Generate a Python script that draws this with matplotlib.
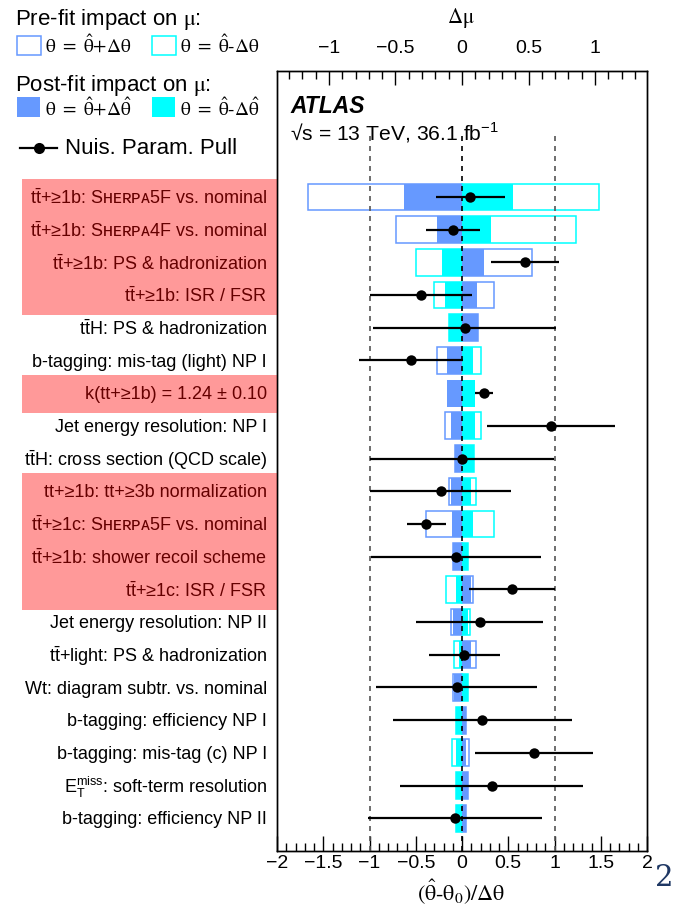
import numpy as np
import matplotlib
matplotlib.use("Agg")
import matplotlib.pyplot as plt
from matplotlib.patches import Rectangle
from matplotlib.lines import Line2D
from matplotlib.ticker import MultipleLocator

plt.rcParams['font.family'] = ['Liberation Sans', 'DejaVu Sans']
plt.rcParams['axes.unicode_minus'] = True

TB = r"$\mathregular{\bar{t}}$"          # t with bar
SH = "S\u029c\u1d07\u0280\u1d18\u1d00"  # Sherpa in small capitals

# Nuisance parameters, ranked top to bottom
labels = [
    f"t{TB}+\u22651b: {SH}5F vs. nominal",
    f"t{TB}+\u22651b: {SH}4F vs. nominal",
    f"t{TB}+\u22651b: PS & hadronization",
    f"t{TB}+\u22651b: ISR / FSR",
    f"t{TB}H: PS & hadronization",
    "b-tagging: mis-tag (light) NP I",
    "k(tt+\u22651b) = 1.24 \u00b1 0.10",
    "Jet energy resolution: NP I",
    f"t{TB}H: cross section (QCD scale)",
    "tt+\u22651b: tt+\u22653b normalization",
    f"t{TB}+\u22651c: {SH}5F vs. nominal",
    f"t{TB}+\u22651b: shower recoil scheme",
    f"t{TB}+\u22651c: ISR / FSR",
    "Jet energy resolution: NP II",
    f"t{TB}+light: PS & hadronization",
    "Wt: diagram subtr. vs. nominal",
    "b-tagging: efficiency NP I",
    "b-tagging: mis-tag (c) NP I",
    r"E$_\mathregular{T}^\mathregular{miss}$: soft-term resolution",
    "b-tagging: efficiency NP II",
]

# Impact on mu (pre-fit and post-fit, +/- variations)
prefit_up = [-1.160, -0.493, 0.529, 0.241, 0.123, -0.185, np.nan, -0.128, -0.050, -0.098,
             -0.271, -0.070, 0.086, -0.083, 0.103, -0.066, 0.028, 0.053, 0.045, 0.028]
prefit_dn = [1.032, 0.860, -0.348, -0.208, -0.100, 0.141, np.nan, 0.146, 0.093, 0.103,
             0.241, 0.048, -0.120, 0.060, -0.062, 0.045, -0.045, -0.072, -0.045, -0.045]
postfit_up = [-0.434, -0.190, 0.165, 0.116, 0.123, -0.115, -0.110, -0.085, -0.050, -0.085,
              -0.077, -0.070, 0.065, -0.065, 0.065, -0.062, 0.028, 0.028, 0.045, 0.028]
postfit_dn = [0.381, 0.221, -0.153, -0.130, -0.100, 0.086, 0.098, 0.101, 0.093, 0.068,
              0.080, 0.048, -0.047, 0.048, -0.023, 0.045, -0.045, -0.047, -0.045, -0.045]

# Pulls and constraints
pulls = [0.09, -0.10, 0.68, -0.44, 0.03, -0.55, 0.24, 0.96, 0.00, -0.23,
         -0.385, -0.065, 0.54, 0.19, 0.025, -0.055, 0.22, 0.78, 0.32, -0.08]
pull_err = [0.37, 0.29, 0.365, 0.55, 0.99, 0.56, 0.10, 0.69, 0.99, 0.76,
            0.215, 0.92, 0.46, 0.69, 0.385, 0.87, 0.965, 0.64, 0.99, 0.94]

# Highlighted groups of rows (first, last), 1-based from the top
highlight_groups = [(1, 4), (7, 7), (10, 13)]

BLUE = "#6699FF"
CYAN = "#00FFFF"

W, H = 677, 911
fig = plt.figure(figsize=(W / 100, H / 100), dpi=100)


def fx(px):
    return px / W


def fy(py):
    return 1 - py / H


n = len(labels)
ypos = np.arange(n)[::-1]  # top row has the highest y
YMIN, YMAX = -1.0, n + 2.85

ax_l, ax_r, ax_t, ax_b = 277, 647, 71, 851
rect = [fx(ax_l), fy(ax_b), (ax_r - ax_l) / W, (ax_b - ax_t) / H]
ax = fig.add_axes(rect)
axt = ax.twiny()
ax.set_zorder(axt.get_zorder() + 1)
ax.patch.set_visible(False)

ax.set_xlim(-2, 2)
axt.set_xlim(-1.39, 1.39)
ax.set_ylim(YMIN, YMAX)
ax.set_yticks([])
axt.set_yticks([])

# Impact boxes on the Delta mu scale
bh = 0.82
axt.barh(ypos, prefit_up, height=bh, left=0, facecolor="none", edgecolor=BLUE, lw=1.1, zorder=2)
axt.barh(ypos, prefit_dn, height=bh, left=0, facecolor="none", edgecolor=CYAN, lw=1.1, zorder=2)
axt.barh(ypos, postfit_up, height=bh, left=0, color=BLUE, lw=0, zorder=3)
axt.barh(ypos, postfit_dn, height=bh, left=0, color=CYAN, lw=0, zorder=3)

# Reference lines
ax.vlines([-1, 1], YMIN, n + 0.95, colors="#555555", linestyles=(0, (3, 3)), lw=1.2, zorder=4)
ax.vlines([0], YMIN, n + 0.95, colors="black", linestyles=(0, (3, 3)), lw=1.2, zorder=4)

# Pulls
ax.errorbar(pulls, ypos, xerr=pull_err, fmt="o", color="black", ms=7.5, mew=0,
            elinewidth=1.6, capsize=0, zorder=5)

# Axis styling
for a in (ax, axt):
    for s in a.spines.values():
        s.set_linewidth(1.0)
ax.xaxis.set_major_locator(MultipleLocator(0.5))
ax.xaxis.set_minor_locator(MultipleLocator(0.1))
ax.tick_params(axis="x", which="major", direction="in", length=11, width=1.0, labelsize=14, pad=3)
ax.tick_params(axis="x", which="minor", direction="in", length=5.5, width=1.0)
ax.set_xticks([-2, -1.5, -1, -0.5, 0, 0.5, 1, 1.5, 2])
ax.set_xticklabels(["\u22122", "\u22121.5", "\u22121", "\u22120.5", "0", "0.5", "1", "1.5", "2"])
axt.xaxis.set_major_locator(MultipleLocator(0.5))
axt.xaxis.set_minor_locator(MultipleLocator(0.1))
axt.tick_params(axis="x", which="major", direction="in", length=10, width=1.0, labelsize=14, pad=10)
axt.tick_params(axis="x", which="minor", direction="in", length=5.5, width=1.0)
axt.set_xticks([-1, -0.5, 0, 0.5, 1])
axt.set_xticklabels(["\u22121", "\u22120.5", "0", "0.5", "1"])

fig.text(fx(461), fy(892), r"$\mathrm{(\hat{\theta}\text{-}\theta_0)/\Delta\theta}$", fontsize=16,
         ha="center", va="center", math_fontfamily="stix")
fig.text(fx(461), fy(18), r"$\mathrm{\Delta\mu}$", fontsize=15, ha="center", va="center",
         math_fontfamily="stix")

ax.text((290 - ax_l) / (ax_r - ax_l), (ax_b - 106) / (ax_b - ax_t), "ATLAS",
        transform=ax.transAxes, fontsize=16.5, fontweight="bold", fontstyle="italic",
        ha="left", va="center")
ax.text((290 - ax_l) / (ax_r - ax_l), (ax_b - 133) / (ax_b - ax_t),
        "\u221as = 13 TeV, 36.1 fb$^{\\mathregular{-1}}$",
        transform=ax.transAxes, fontsize=15.2, ha="left", va="center")

# Labels column with highlighted groups
lab_l = 22
axl = fig.add_axes([fx(lab_l), fy(ax_b), (ax_l - lab_l) / W, (ax_b - ax_t) / H])
axl.set_xlim(0, 1)
axl.set_ylim(YMIN, YMAX)
axl.axis("off")
for y, lab in zip(ypos, labels):
    axl.text((267 - lab_l) / (ax_l - lab_l), y - 0.05, lab, ha="right", va="center",
             fontsize=13, zorder=2)
for first, last in highlight_groups:
    top = ypos[first - 1] + 0.55
    bot = ypos[last - 1] - 0.62
    axl.axhspan(bot, top, xmin=0, xmax=1, color="red", alpha=0.4, lw=0, zorder=3)

# Legend block
fig.text(fx(15), fy(19), r"Pre-fit impact on $\mathrm{\mu}$:", fontsize=16, ha="left",
         va="center", math_fontfamily="stix")
fig.text(fx(15), fy(85), r"Post-fit impact on $\mathrm{\mu}$:", fontsize=16, ha="left",
         va="center", math_fontfamily="stix")


def legend_box(x0, y0, filled, color):
    w, h = 23.5 / W, 19.5 / H
    if filled:
        r = Rectangle((fx(x0), fy(y0) - h), w, h, transform=fig.transFigure,
                      facecolor=color, edgecolor="none")
    else:
        r = Rectangle((fx(x0), fy(y0) - h), w, h, transform=fig.transFigure,
                      facecolor="white", edgecolor=color, lw=1.1)
    fig.add_artist(r)


legend_box(17.3, 35.7, False, BLUE)
legend_box(152.3, 35.7, False, CYAN)
legend_box(16.7, 97.5, True, BLUE)
legend_box(151.7, 97.5, True, CYAN)
for x0, y0, sym in [(45, 46, "+"), (180, 46, "-"), (45, 109, "+"), (180, 109, "-")]:
    sgn = r"{+}" if sym == "+" else r"\text{-}"
    hat = r"\Delta\theta" if y0 < 60 else r"\Delta\hat{\theta}"
    fig.text(fx(x0), fy(y0), rf"$\mathrm{{\theta\ =\ \hat{{\theta}}{sgn}{hat}}}$", fontsize=14,
             ha="left", va="center", math_fontfamily="stix")

fig.add_artist(Line2D([fx(20), fx(57)], [fy(148), fy(148)], transform=fig.transFigure,
                      color="black", lw=1.6))
fig.add_artist(Line2D([fx(38.5)], [fy(148)], transform=fig.transFigure, marker="o",
                      ms=8, mew=0, color="black"))
fig.text(fx(65), fy(148), "Nuis. Param. Pull", fontsize=16, ha="left", va="center")

# Page number
fig.text(fx(664), fy(878), "2", fontsize=21, color="#1F3864", family="DejaVu Serif",
         ha="center", va="center")

fig.savefig("out.png", dpi=100)
